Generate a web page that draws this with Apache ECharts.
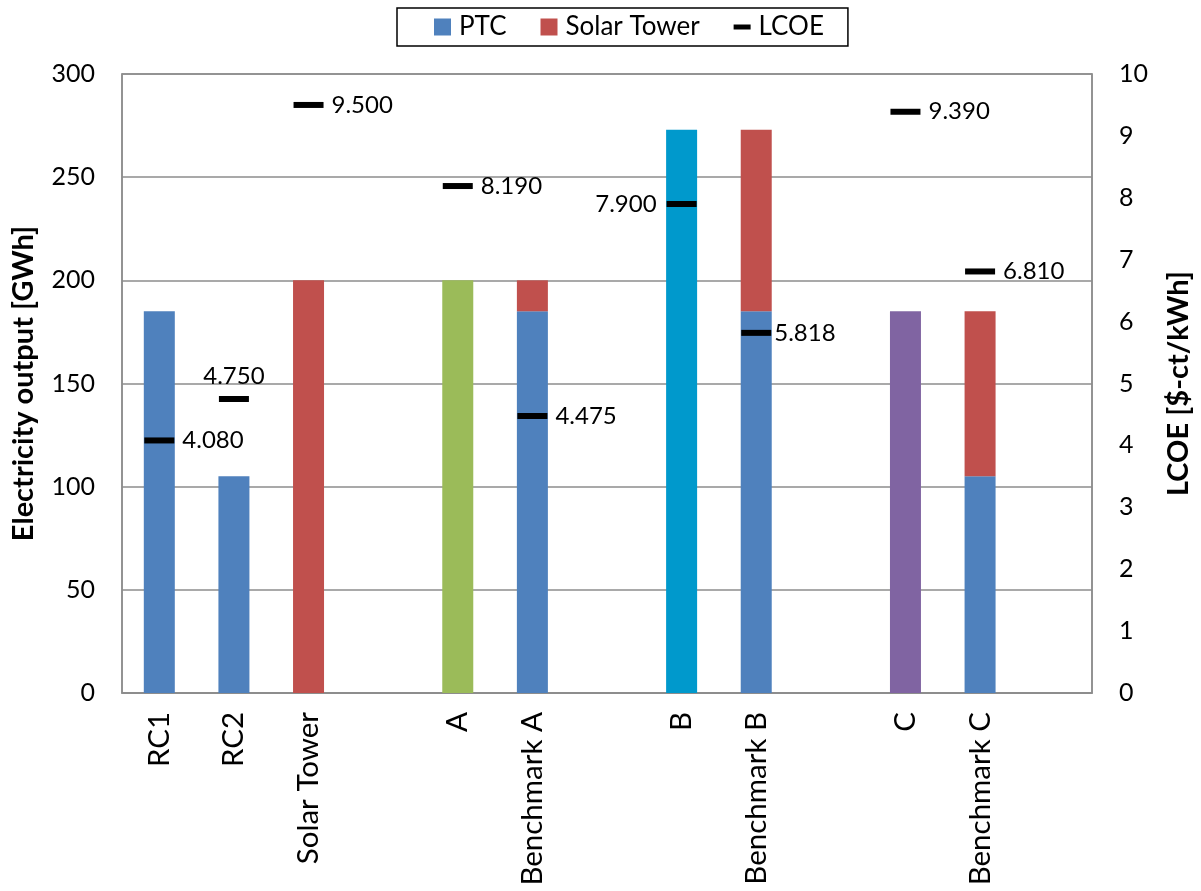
<!DOCTYPE html>
<html>
<head>
<meta charset="utf-8">
<title>Electricity output and LCOE</title>
<script src="https://cdn.jsdelivr.net/npm/echarts@6/dist/echarts.min.js"></script>
<style>
  html, body { margin: 0; padding: 0; background: #ffffff; }
  #chart { width: 1201px; height: 891px; }
</style>
</head>
<body>
<div id="chart"></div>
<script>
// Plant configurations (empty strings keep gaps between groups)
const categories = ['RC1', 'RC2', 'Solar Tower', '', 'A', 'Benchmark A', '', 'B', 'Benchmark B', '', 'C', 'Benchmark C', ''];

// Electricity output [GWh]
const ptcOutput   = [185, 105, null, null, null, 185, null, null, 185, null, null, 105, null];
const towerOutput = [null, null, 200, null, null, 15, null, null, 88, null, null, 80, null];
const configA     = [null, null, null, null, 200, null, null, null, null, null, null, null, null];
const configB     = [null, null, null, null, null, null, null, 273, null, null, null, null, null];
const configC     = [null, null, null, null, null, null, null, null, null, null, 185, null, null];

// LCOE [$-ct/kWh]
const lcoe = [4.080, 4.750, 9.500, null, 8.190, 4.475, null, 7.900, 5.818, null, 9.390, 6.810, null];

// Where each LCOE value label sits relative to its marker
const lcoeLabelPos = ['right', 'top', 'right', null, 'right', 'right', null, 'left', 'right', null, 'right', 'right', null];

const FONT = 'Lato, "Open Sans", sans-serif';
const GRID_GRAY = '#8c8c8c';

const chart = echarts.init(document.getElementById('chart'), null, { renderer: 'canvas' });

const lcoeData = lcoe.map((v, i) => {
  if (v === null) return null;
  const pos = lcoeLabelPos[i];
  return {
    value: v,
    label: {
      position: pos,
      distance: pos === 'top' ? 8 : (pos === 'left' ? 10 : (i === 8 ? 3 : 8))
    }
  };
});

const barCommon = {
  type: 'bar',
  stack: 'output',
  barWidth: 31,
  yAxisIndex: 0
};

const option = {
  backgroundColor: '#ffffff',
  animation: false,
  textStyle: { fontFamily: FONT, color: '#000' },
  legend: {
    left: 397,
    top: 8,
    padding: [6, 24, 6, 37],
    itemGap: 34,
    itemWidth: 17,
    itemHeight: 17,
    borderColor: '#000',
    borderWidth: 1.5,
    textStyle: { fontFamily: FONT, fontSize: 26, color: '#000', padding: [0, 0, 0, 3] },
    data: [
      { name: 'PTC', icon: 'rect' },
      { name: 'Solar Tower', icon: 'rect' },
      { name: 'LCOE', icon: 'path://M0,0 H17 V5 H0 Z' }
    ]
  },
  grid: {
    left: 122,
    right: 102,
    top: 74,
    bottom: 198,
    show: true,
    borderColor: GRID_GRAY,
    borderWidth: 1.5
  },
  xAxis: {
    type: 'category',
    data: categories,
    axisLine: { lineStyle: { color: GRID_GRAY, width: 1.5 } },
    axisTick: { show: false },
    axisLabel: {
      interval: 0,
      rotate: 90,
      margin: 19,
      fontFamily: FONT,
      fontSize: 29.5,
      color: '#000'
    }
  },
  yAxis: [
    {
      type: 'value',
      min: 0,
      max: 300,
      interval: 50,
      name: 'Electricity output [GWh]',
      nameLocation: 'middle',
      nameRotate: 90,
      nameGap: 84,
      nameTextStyle: { fontFamily: FONT, fontSize: 29, fontWeight: 'bold', color: '#000' },
      axisLine: { show: true, lineStyle: { color: GRID_GRAY, width: 1.5 } },
      axisTick: { show: false },
      axisLabel: { margin: 27, fontFamily: FONT, fontSize: 25, color: '#000' },
      splitLine: { lineStyle: { color: GRID_GRAY, width: 1.5 } }
    },
    {
      type: 'value',
      min: 0,
      max: 10,
      interval: 1,
      position: 'right',
      name: 'LCOE [$-ct/kWh]',
      nameLocation: 'middle',
      nameRotate: 90,
      nameGap: 72,
      nameTextStyle: { fontFamily: FONT, fontSize: 29, fontWeight: 'bold', color: '#000' },
      axisLine: { show: true, lineStyle: { color: GRID_GRAY, width: 1.5 } },
      axisTick: { show: false },
      axisLabel: { margin: 27, fontFamily: FONT, fontSize: 25, color: '#000' },
      splitLine: { show: false }
    }
  ],
  series: [
    Object.assign({}, barCommon, { name: 'PTC', data: ptcOutput, itemStyle: { color: '#4F81BD' } }),
    Object.assign({}, barCommon, { name: 'Solar Tower', data: towerOutput, itemStyle: { color: '#C0504D' } }),
    Object.assign({}, barCommon, { name: 'A', data: configA, itemStyle: { color: '#9BBB59' } }),
    Object.assign({}, barCommon, { name: 'B', data: configB, itemStyle: { color: '#0099CC' } }),
    Object.assign({}, barCommon, { name: 'C', data: configC, itemStyle: { color: '#8064A2' } }),
    {
      name: 'LCOE',
      type: 'scatter',
      yAxisIndex: 1,
      symbol: 'rect',
      symbolSize: [30, 6],
      itemStyle: { color: '#000', opacity: 1 },
      z: 5,
      label: {
        show: true,
        fontFamily: FONT,
        fontSize: 24,
        color: '#000',
        formatter: p => p.value.toFixed(3)
      },
      data: lcoeData
    }
  ]
};

chart.setOption(option);
</script>
</body>
</html>
